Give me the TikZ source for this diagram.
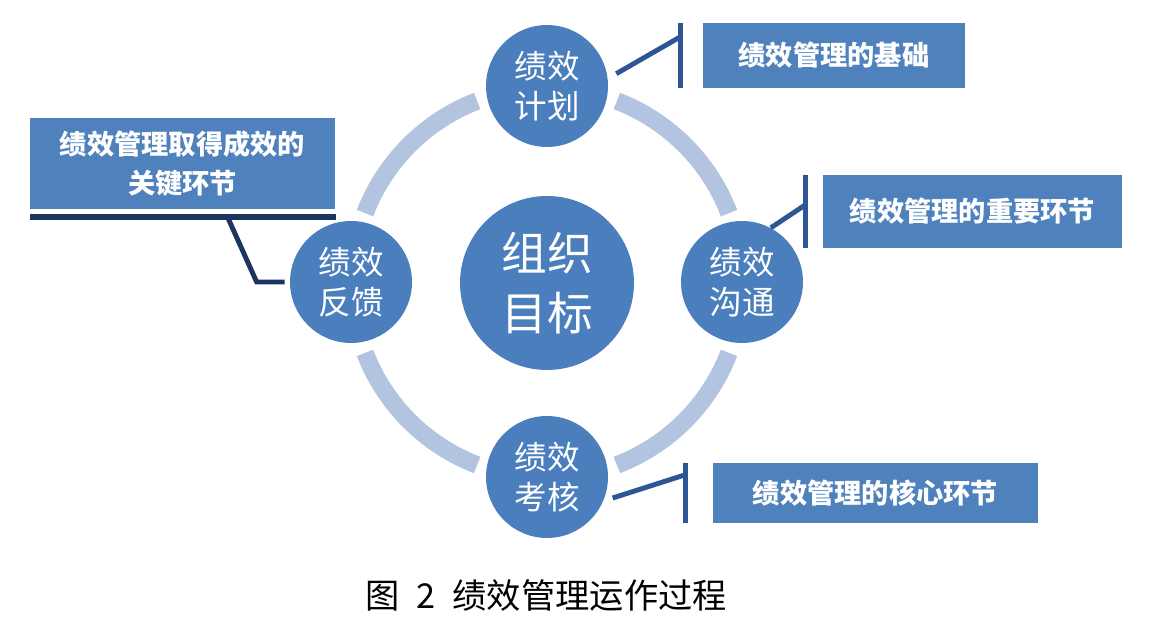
\documentclass[tikz,border=0pt]{standalone}
\usepackage{fontspec}
\setmainfont{Noto Sans CJK SC}
\usetikzlibrary{positioning, calc}
\definecolor{kpiblue}{RGB}{74,126,188}
\definecolor{kpibox}{RGB}{79,129,189}
\definecolor{kpiring}{RGB}{178,196,224}
\definecolor{kpiline}{RGB}{46,86,148}
\definecolor{kpinavy}{RGB}{27,52,96}

\begin{document}
\begin{tikzpicture}[x=0.02cm, y=0.02cm,
    every node/.style={align=center, inner sep=0pt},
    stage/.style={circle, fill=kpiblue, minimum size=2.44cm, text=white, font=\fontsize{18.5}{23}\selectfont},
    note/.style={fill=kpibox, text=white, font=\bfseries\fontsize{15.5}{22}\selectfont},
    ring/.style={kpiring, line width=10pt},
    lead/.style={kpiline, line width=2.8pt}]
  \useasboundingbox (0,0) rectangle (1152,624);

  % ring behind the stages
  \foreach \a in {0,90,180,270}
    \draw[ring] (547,341) ++(\a+21:3.9cm) arc[start angle=\a+21, end angle=\a+69, radius=3.9cm];

  % stages
  \node[stage] (plan) at (547,538) {绩效\\计划};
  \node[stage] (comm) at (742,342) {绩效\\沟通};
  \node[stage] (eval) at (547,147) {绩效\\考核};
  \node[stage] (feedback) at (351,342) {绩效\\反馈};
  \node[circle, fill=kpiblue, minimum size=3.48cm, text=white, font=\fontsize{26}{34}\selectfont] (goal) at (547,341) {组织\\目标};

  % callout boxes
  \node[note, minimum width=5.24cm, minimum height=1.3cm] (plannote) at (834,568.5) {绩效管理的基础};
  \node[note, minimum width=5.98cm, minimum height=1.46cm] (commnote) at (972.5,412.5) {绩效管理的重要环节};
  \node[note, minimum width=6.5cm, minimum height=1.2cm] (evalnote) at (875.5,131) {绩效管理的核心环节};
  \node[note, minimum width=6.1cm, minimum height=1.82cm] (feedbacknote) at (182.5,460.5) {绩效管理取得成效的\\关键环节};

  % leaders
  \draw[lead] ($(plannote.north west)+(-22,0)$) -- ($(plannote.south west)+(-22,0)$);
  \draw[lead, shorten <=5.5pt] (plan.7) -- ($(plannote.north west)+(-22,-14)$);

  \draw[lead] ($(commnote.north west)+(-17,0)$) -- ($(commnote.south west)+(-17,0)$);
  \draw[lead] (comm.62) -- ($(commnote.north west)+(-17,-30)$);

  \draw[lead] ($(evalnote.north west)+(-27,0)$) -- ($(evalnote.south west)+(-27,0)$);
  \draw[lead, shorten <=5.5pt] (eval.-23) -- ($(evalnote.north west)+(-27,-12)$);

  \draw[kpinavy, line width=3.5pt] ($(feedbacknote.south west)+(0,-8)$) -- ($(feedbacknote.south east)+(1,-8)$);
  \draw[kpinavy, line width=2.8pt, shorten >=2.8pt] ($(feedbacknote.south west)+(198,-8)$) -- ($(feedback.west)+(-33,0)$) -- (feedback.west);

  % caption
  \node[font=\fontsize{19.5}{22}\selectfont] (caption) at (546,29) {图\hspace{0.5em}2\hspace{0.5em}绩效管理运作过程};
\end{tikzpicture}
\end{document}
